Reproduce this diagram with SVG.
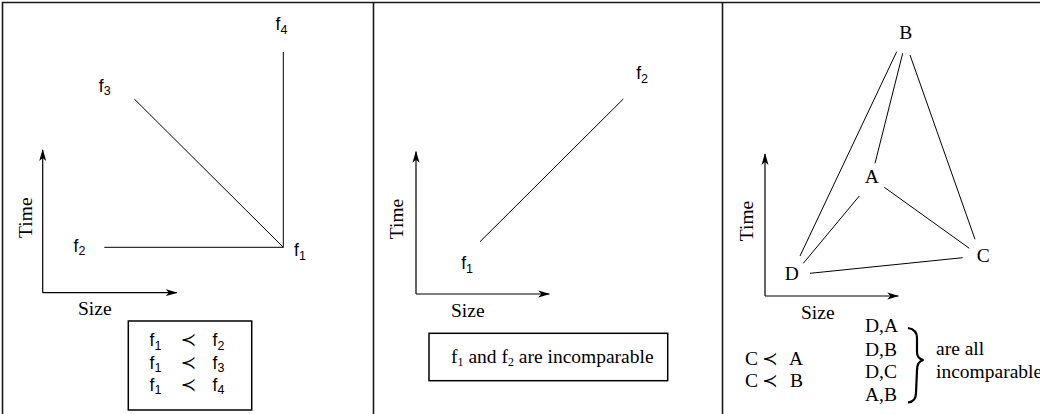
<svg xmlns="http://www.w3.org/2000/svg" width="1040" height="414" viewBox="0 0 1040 414">
<style>
.frame{fill:none;stroke:#1a1a1a;stroke-width:1.6}
.ln{fill:none;stroke:#000;stroke-width:1}
.ax{fill:none;stroke:#000;stroke-width:1.2}
.box{fill:#fff;stroke:#000;stroke-width:1.5}
.sans{font-family:"Liberation Sans",Arial,sans-serif;font-size:17.5px;fill:#000}
.serif{font-family:"Liberation Serif","Times New Roman",serif;font-size:19.5px;fill:#000}
.sym{font-family:"DejaVu Sans",sans-serif;font-size:19px;fill:#000}
.sub{font-size:12.5px}
.ssub{font-size:12px}
.mid{text-anchor:middle}
</style>
<defs>
<marker id="arr" viewBox="0 0 12 8" refX="11" refY="4" markerWidth="12" markerHeight="8" markerUnits="userSpaceOnUse" orient="auto">
<path d="M0,0.5 L12,4 L0,7.5 L3,4 Z" fill="#000"/>
</marker>
</defs>
<g id="frame">
<path class="frame" d="M2.5,414 V2.5 H1040"/>
<line class="frame" x1="373.5" y1="2.5" x2="373.5" y2="414"/>
<line class="frame" x1="722.5" y1="2.5" x2="722.5" y2="414"/>
</g>

<g id="connectors">
<line class="ln" x1="283.3" y1="52" x2="283.3" y2="247.3"/>
<line class="ln" x1="134.3" y1="99" x2="283.3" y2="247.3"/>
<line class="ln" x1="104.3" y1="247.3" x2="283.3" y2="247.3"/>
<line class="ln" x1="480" y1="241.7" x2="623.3" y2="99"/>
<line class="ln" x1="896.7" y1="51.7" x2="800" y2="256"/>
<line class="ln" x1="902.7" y1="53.3" x2="875" y2="163.3"/>
<line class="ln" x1="910" y1="55" x2="975" y2="239.3"/>
<line class="ln" x1="859.3" y1="196" x2="803.3" y2="263.3"/>
<line class="ln" x1="884.3" y1="187.3" x2="969.3" y2="248.3"/>
<line class="ln" x1="810" y1="273.3" x2="962.7" y2="257.7"/>
</g>

<g id="axes1">
<path class="ax" d="M42.7,292.7 V150" marker-end="url(#arr)"/>
<path class="ax" d="M42.7,292.7 H176.7" marker-end="url(#arr)"/>
<text class="serif mid" transform="translate(31.5,217.7) rotate(-90)">Time</text>
<text class="serif" x="78" y="315">Size</text>
</g>
<g id="axes2">
<path class="ax" d="M416,294 V151.7" marker-end="url(#arr)"/>
<path class="ax" d="M416,294 H549.3" marker-end="url(#arr)"/>
<text class="serif mid" transform="translate(403,219) rotate(-90)">Time</text>
<text class="serif" x="451" y="316.5">Size</text>
</g>
<g id="axes3">
<path class="ax" d="M765,296 V154" marker-end="url(#arr)"/>
<path class="ax" d="M765,296 H898.3" marker-end="url(#arr)"/>
<text class="serif mid" transform="translate(752.5,221) rotate(-90)">Time</text>
<text class="serif" x="801" y="318.5">Size</text>
</g>

<g id="node-f1-p1"><text class="sans" x="294" y="256">f<tspan class="sub" dy="3.5">1</tspan></text></g>
<g id="node-f2-p1"><text class="sans" x="73.5" y="251.5">f<tspan class="sub" dy="3.5">2</tspan></text></g>
<g id="node-f3-p1"><text class="sans" x="98.8" y="91.5">f<tspan class="sub" dy="3.5">3</tspan></text></g>
<g id="node-f4-p1"><text class="sans" x="275.5" y="30">f<tspan class="sub" dy="3.5">4</tspan></text></g>

<g id="box1">
<rect class="box" x="128.3" y="321" width="123.4" height="89"/>
<text class="sans" x="149.5" y="346">f<tspan class="sub" dy="3.5">1</tspan></text>
<text class="sym" x="180.5" y="346">≺</text>
<text class="sans" x="212.5" y="346">f<tspan class="sub" dy="3.5">2</tspan></text>
<text class="sans" x="149.5" y="368.5">f<tspan class="sub" dy="3.5">1</tspan></text>
<text class="sym" x="180.5" y="368.5">≺</text>
<text class="sans" x="212.5" y="368.5">f<tspan class="sub" dy="3.5">3</tspan></text>
<text class="sans" x="149.5" y="390.5">f<tspan class="sub" dy="3.5">1</tspan></text>
<text class="sym" x="180.5" y="390.5">≺</text>
<text class="sans" x="212.5" y="390.5">f<tspan class="sub" dy="3.5">4</tspan></text>
</g>

<g id="node-f1-p2"><text class="sans" x="461.2" y="269">f<tspan class="sub" dy="3.5">1</tspan></text></g>
<g id="node-f2-p2"><text class="sans" x="636.2" y="79">f<tspan class="sub" dy="3.5">2</tspan></text></g>

<g id="box2">
<rect class="box" x="429" y="333.3" width="238.7" height="47.4"/>
<text class="serif" x="451" y="362.5">f<tspan class="ssub" dy="3">1</tspan><tspan dy="-3"> and f</tspan><tspan class="ssub" dy="3">2</tspan><tspan dy="-3"> are incomparable</tspan></text>
</g>

<g id="node-B"><text class="serif mid" x="905.7" y="39">B</text></g>
<g id="node-A"><text class="serif mid" x="871.7" y="183">A</text></g>
<g id="node-C"><text class="serif mid" x="983.3" y="261.7">C</text></g>
<g id="node-D"><text class="serif mid" x="791.7" y="280">D</text></g>

<g id="relations3">
<text class="serif" x="745" y="364.5">C</text>
<text class="sym" x="762" y="364.5">≺</text>
<text class="serif" x="789" y="364.5">A</text>
<text class="serif" x="745" y="386.5">C</text>
<text class="sym" x="762" y="386.5">≺</text>
<text class="serif" x="790" y="386.5">B</text>
<text class="serif" x="865" y="332">D,A</text>
<text class="serif" x="865" y="355.5">D,B</text>
<text class="serif" x="865" y="378">D,C</text>
<text class="serif" x="865" y="401">A,B</text>
<path d="M908,328 C914,329 917,332 917,338 L917,352 C917,357 919,359 923.5,360 C919,361 917,364 917,370 L916,393 C916,399 913,402 908,402.5" fill="none" stroke="#000" stroke-width="2.2"/>
<text class="serif" x="936" y="355">are all</text>
<text class="serif" x="936" y="377.5">incomparable</text>
</g>
</svg>
